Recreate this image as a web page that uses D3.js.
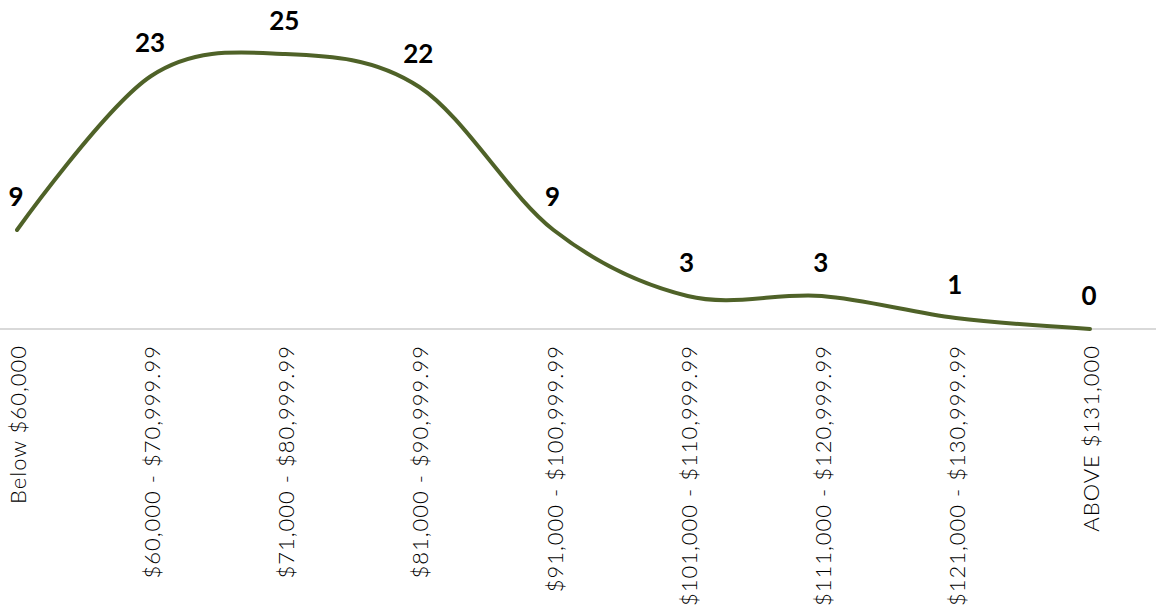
<!DOCTYPE html>
<html lang="en">
    <head>
        <meta charset="utf-8">
        <title>Salary Distribution</title>
        <script src="https://d3js.org/d3.v7.min.js"></script>
        <style type="text/css">
            body{
                margin: 0;
                background: #ffffff;
            }
            svg{
                width: 1156px;
                height: 606px;
                display: block;
            }
            .cat{
                font-family: "Lato", "Open Sans", sans-serif;
                font-weight: 300;
                font-size: 22px;
                letter-spacing: 1px;
                fill: #000000;
            }
            .val{
                font-family: "Lato", sans-serif;
                font-weight: 700;
                font-size: 26px;
                fill: #000000;
            }
        </style>
    </head>
    <body>
        <svg></svg>
        <script type="text/javascript">

        const w = 1156;
        const h = 606;

        //DATA
        const categories = ["Below $60,000", "$60,000 - $70,999.99", "$71,000 - $80,999.99",
            "$81,000 - $90,999.99", "$91,000 - $100,999.99", "$101,000 - $110,999.99",
            "$111,000 - $120,999.99", "$121,000 - $130,999.99", "ABOVE $131,000"];
        const counts = [9, 23, 25, 22, 9, 3, 3, 1, 0];

        const dataset = categories.map((c, i) => ({cat: c, val: counts[i]}));

        //SCALES
        const x = d3.scalePoint()
                    .domain(categories)
                    .range([17, 1090]);

        const y = d3.scaleLinear()
                    .domain([0, 30])
                    .range([329, -1]);

        const svg = d3.select("svg");

        //BASELINE
        svg.append("line")
           .attr("x1", 0)
           .attr("x2", w)
           .attr("y1", y(0))
           .attr("y2", y(0))
           .attr("stroke", "#d9d9d9")
           .attr("stroke-width", 2);

        //AXIS (labels rotated)
        const xAxis = svg.append("g")
                         .attr("transform", `translate(0,${y(0)})`)
                         .call(d3.axisBottom(x).tickSize(0).tickPadding(0));

        xAxis.select(".domain").remove();

        xAxis.selectAll("text")
             .attr("class", "cat")
             .attr("text-anchor", "end")
             .attr("dy", null)
             .attr("y", 0)
             .attr("transform", "translate(0,16) rotate(-90)")
             .attr("dominant-baseline", "central");

        //LINE
        const line = d3.line()
                       .x(d => x(d.cat))
                       .y(d => y(d.val))
                       .curve(d3.curveCardinal.tension(0));

        svg.append("path")
           .datum(dataset)
           .attr("d", line)
           .attr("fill", "none")
           .attr("stroke", "#4f6228")
           .attr("stroke-width", 4)
           .attr("stroke-linecap", "round");

        //VALUE LABELS
        svg.selectAll("text.val")
           .data(dataset)
           .join("text")
           .attr("class", "val")
           .attr("x", d => x(d.cat) - 1)
           .attr("y", d => y(d.val) - 24)
           .attr("text-anchor", "middle")
           .text(d => d.val);

        </script>
    </body>
</html>
